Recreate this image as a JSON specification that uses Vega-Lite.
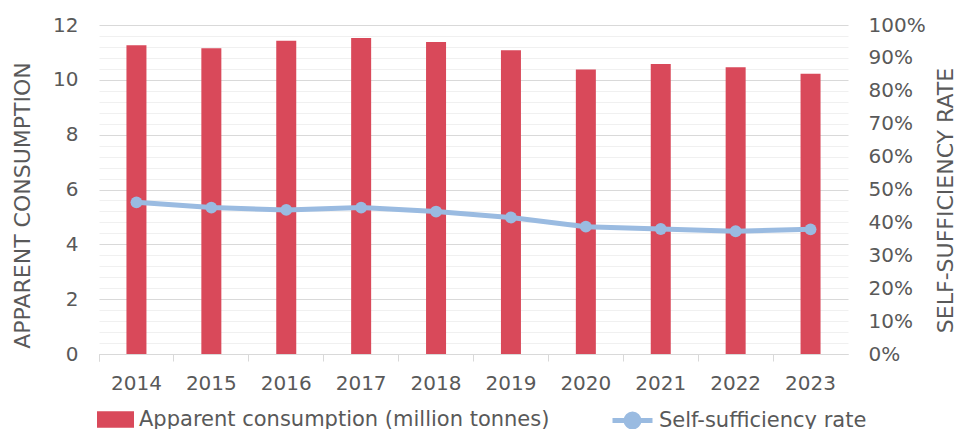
{
  "$schema": "https://vega.github.io/schema/vega-lite/v6.json",
  "width": 749,
  "height": 329,
  "autosize": {"type": "none"},
  "padding": {"left": 99, "top": 25, "right": 110, "bottom": 75},
  "background": "white",
  "config": {
    "view": {"stroke": null},
    "font": "DejaVu Sans",
    "axis": {
      "labelFont": "DejaVu Sans",
      "titleFont": "DejaVu Sans",
      "labelColor": "#595959",
      "titleColor": "#595959",
      "labelFontSize": 20,
      "titleFontSize": 22,
      "titleFontWeight": "normal"
    },
    "legend": {
      "labelFont": "DejaVu Sans",
      "labelFontSize": 21,
      "labelColor": "#595959",
      "labelLimit": 0,
      "padding": 0
    }
  },
  "data": {
    "values": [
      {"year": "2014", "consumption": 11.26, "rate": 0.461},
      {"year": "2015", "consumption": 11.15, "rate": 0.445},
      {"year": "2016", "consumption": 11.43, "rate": 0.438},
      {"year": "2017", "consumption": 11.53, "rate": 0.445},
      {"year": "2018", "consumption": 11.38, "rate": 0.433},
      {"year": "2019", "consumption": 11.08, "rate": 0.415},
      {"year": "2020", "consumption": 10.38, "rate": 0.387},
      {"year": "2021", "consumption": 10.58, "rate": 0.380},
      {"year": "2022", "consumption": 10.46, "rate": 0.373},
      {"year": "2023", "consumption": 10.22, "rate": 0.379}
    ]
  },
  "layer": [
    {
      "mark": {"type": "bar", "width": 20},
      "encoding": {
        "x": {
          "field": "year",
          "type": "ordinal",
          "scale": {"paddingInner": 0, "paddingOuter": 0},
          "axis": {
            "title": null,
            "labelAngle": 0,
            "bandPosition": 0,
            "tickExtra": true,
            "domainColor": "#D9D9D9",
            "tickColor": "#D9D9D9",
            "tickSize": 7,
            "labelPadding": 12,
            "grid": false
          }
        },
        "y": {
          "field": "consumption",
          "type": "quantitative",
          "scale": {"domain": [0, 12], "nice": false},
          "axis": {
            "title": "APPARENT CONSUMPTION",
            "values": [0, 0.4, 0.8, 1.2, 1.6, 2, 2.4, 2.8, 3.2, 3.6, 4, 4.4, 4.8, 5.2, 5.6, 6, 6.4, 6.8, 7.2, 7.6, 8, 8.4, 8.8, 9.2, 9.6, 10, 10.4, 10.8, 11.2, 11.6, 12],
            "format": ".0f",
            "labelExpr": "abs(datum.value - round(datum.value/2)*2) < 0.01 ? datum.label : ''",
            "labelOverlap": false,
            "grid": true,
            "gridColor": {"condition": {"test": "abs(datum.value - round(datum.value/2)*2) < 0.01", "value": "#D9D9D9"}, "value": "#F0F0F0"},
            "ticks": false,
            "domain": false,
            "labelPadding": 21,
            "titlePadding": 18,
            "titleY": 180
          }
        },
        "fill": {
          "datum": "Apparent consumption (million tonnes)",
          "type": "nominal",
          "scale": {"range": ["#D9495A"]},
          "legend": {
            "title": null,
            "orient": "none",
            "legendX": -3,
            "legendY": 375,
            "symbolType": "M-1,-0.45H1V0.45H-1Z",
            "symbolSize": 1369,
            "labelOffset": 4
          }
        }
      }
    },
    {
      "mark": {"type": "line", "strokeWidth": 5, "point": {"filled": true, "size": 140}},
      "encoding": {
        "x": {"field": "year", "type": "ordinal"},
        "y": {
          "field": "rate",
          "type": "quantitative",
          "scale": {"domain": [0, 1], "nice": false},
          "axis": {
            "orient": "right",
            "title": "SELF-SUFFICIENCY RATE",
            "titleAngle": 270,
            "values": [0, 0.1, 0.2, 0.3, 0.4, 0.5, 0.6, 0.7, 0.8, 0.9, 1],
            "format": ".0%",
            "grid": false,
            "ticks": false,
            "domain": false,
            "labelPadding": 20,
            "titlePadding": 32,
            "titleY": 175
          }
        },
        "color": {
          "datum": "Self-sufficiency rate",
          "type": "nominal",
          "scale": {"range": ["#9ABBE1"]},
          "legend": {
            "title": null,
            "orient": "none",
            "legendX": 511,
            "legendY": 373,
            "symbolType": "M-1,0L1,0M0.325,0A0.325,0.325,0,1,1,-0.325,0A0.325,0.325,0,1,1,0.325,0Z",
            "symbolSize": 1600,
            "symbolStrokeWidth": 5,
            "symbolFillColor": "#9ABBE1",
            "symbolStrokeColor": "#9ABBE1",
            "labelOffset": 4
          }
        }
      }
    }
  ],
  "resolve": {"scale": {"y": "independent"}}
}
